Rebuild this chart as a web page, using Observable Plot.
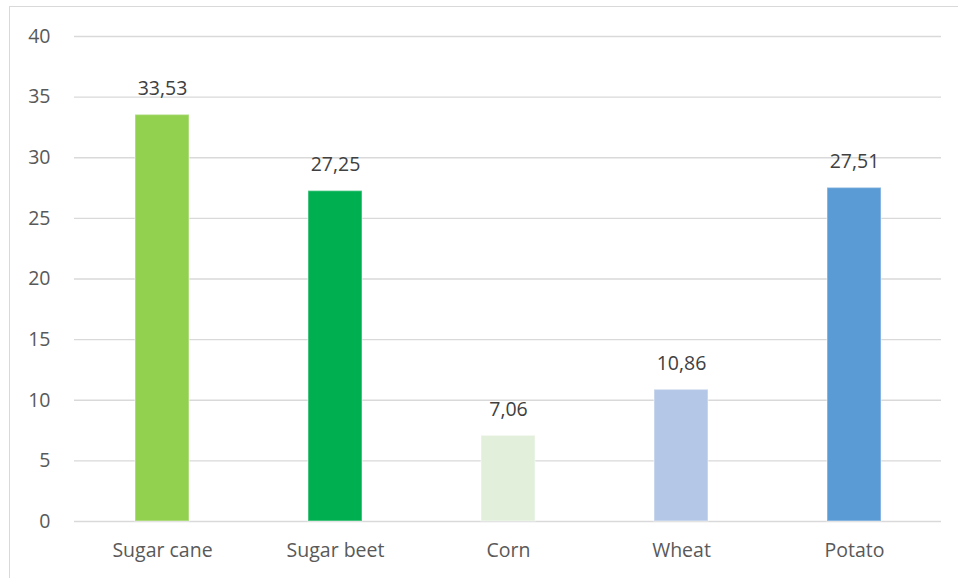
<!DOCTYPE html>
<html>
<head>
<meta charset="utf-8">
<script src="https://cdn.jsdelivr.net/npm/d3@7"></script>
<script src="https://cdn.jsdelivr.net/npm/@observablehq/plot@0.6"></script>
<style>
  html, body { margin: 0; padding: 0; background: #fff; }
  #wrap { position: relative; width: 958px; height: 578px; overflow: hidden; }
  #border { position: absolute; left: 9px; top: 6px; width: 1000px; height: 1000px; border: 1px solid #d9d9d9; }
  #chart { position: absolute; left: 0; top: 0; }
</style>
</head>
<body>
<div id="wrap"><div id="border"></div><div id="chart"></div></div>
<script>
const crops = ["Sugar cane", "Sugar beet", "Corn", "Wheat", "Potato"];
const yields = [33.53, 27.25, 7.06, 10.86, 27.51];
const colors = ["#92D050", "#00B050", "#E2EFDA", "#B4C7E7", "#5B9BD5"];
const yTicks = [0, 5, 10, 15, 20, 25, 30, 35, 40];

const rows = crops.map((c, i) => ({crop: c, value: yields[i], color: colors[i]}));
const fmt = v => v.toFixed(2).replace(".", ",");

const chart = Plot.plot({
  width: 958,
  height: 578,
  marginLeft: 74,
  marginRight: 17,
  marginTop: 36,
  marginBottom: 57,
  style: {fontFamily: "'Open Sans', sans-serif", fontSize: "19.5px", color: "#595959", background: "transparent"},
  x: {domain: crops, paddingInner: 0.69, paddingOuter: 0.345, label: null, tickSize: 0, tickPadding: 22},
  y: {domain: [0, 40], ticks: yTicks, label: null, tickSize: 0, tickPadding: 24},
  marks: [
    Plot.gridY(yTicks, {stroke: "#d9d9d9", strokeOpacity: 1, strokeWidth: 1.3}),
    Plot.barY(rows, {x: "crop", y: "value", fill: "color", stroke: "#ffffff", strokeOpacity: 0.35, strokeWidth: 1.5}),
    Plot.text(rows, {x: "crop", y: "value", text: d => fmt(d.value), dy: -26, fill: "#404040", fontSize: 19.5})
  ]
});
document.getElementById("chart").appendChild(chart);
</script>
</body>
</html>
